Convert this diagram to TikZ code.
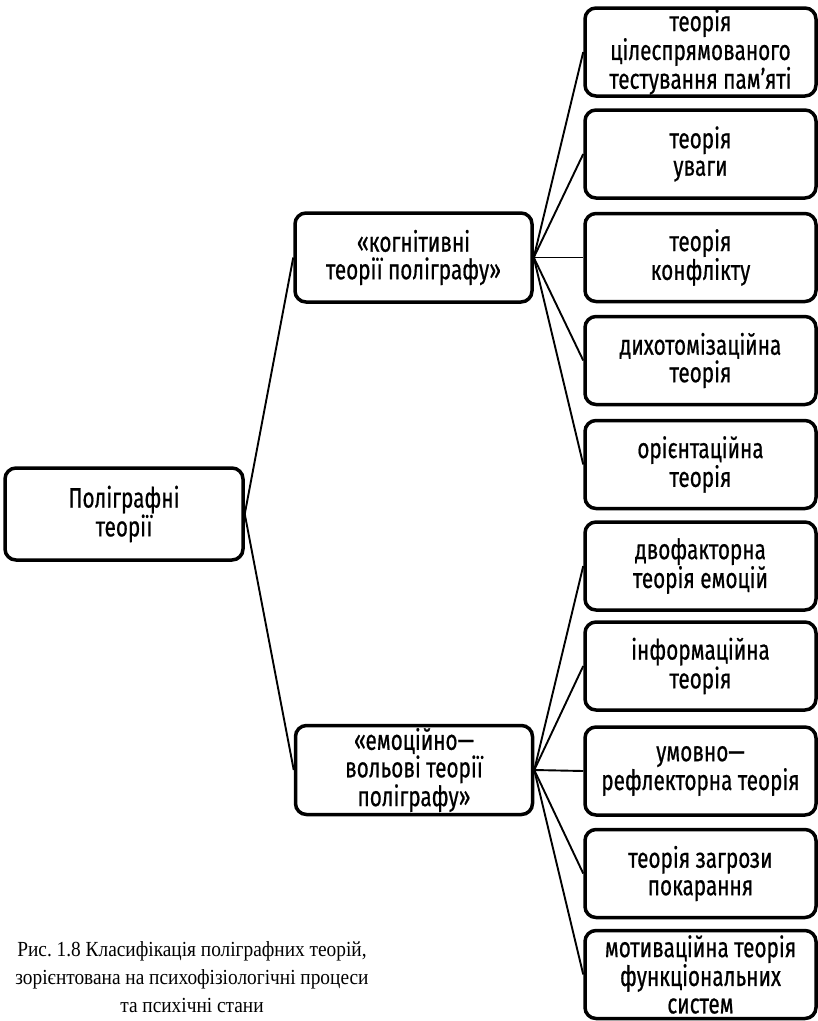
\documentclass[tikz,border=0pt]{standalone}
\usepackage{fontspec}
\setmainfont[FakeStretch=0.9]{Liberation Serif}
\newfontfamily\boxfont[FakeStretch=0.74,FakeBold=0.6]{Fira Sans}
\begin{document}
\begin{tikzpicture}[x=1pt,y=-1pt,
  tbox/.style={draw=black, line width=3.5pt, rounded corners=11pt, align=center,
    font=\boxfont\fontsize{28}{27.5}\selectfont, inner sep=0pt, fill=white,
    execute at begin node={\spaceskip=5.5pt\relax}},
  leaf/.style={tbox, minimum width=231pt, minimum height=88pt, text width=231pt},
  mid/.style={tbox, minimum width=237pt, minimum height=89pt, text width=230pt},
  conn/.style={draw=black, line width=1.9pt}]
\useasboundingbox (0,0) rectangle (818,1021);
\node[tbox, minimum width=238pt, minimum height=92pt, text width=230pt] (root) at (124,514) {Поліграфні\\теорії};
\node[mid] (cog) at (413.5,257.5) {«когнітивні\\теорії поліграфу»};
\node[mid] (emo) at (414,770) {«емоційно—\\вольові теорії\\поліграфу»};
\node[leaf] (r1) at (700.5,52) {теорія\\цілеспрямованого\\тестування пам’яті};
\node[leaf] (r2) at (700.5,154) {теорія\\уваги};
\node[leaf] (r3) at (700.5,257.5) {теорія\\конфлікту};
\node[leaf] (r4) at (700.5,360.5) {дихотомізаційна\\теорія};
\node[leaf] (r5) at (700.5,464.5) {орієнтаційна\\теорія};
\node[leaf] (r6) at (700.5,566) {двофакторна\\теорія емоцій};
\node[leaf] (r7) at (700.5,666) {інформаційна\\теорія};
\node[leaf] (r8) at (700.5,771) {умовно—\\рефлекторна теорія};
\node[leaf] (r9) at (700.5,873.5) {теорія загрози\\покарання};
\node[leaf] (r10) at (700.5,974.5) {мотиваційна теорія\\функціональних\\систем};
\draw[conn] (root.east) -- (cog.west);
\draw[conn] (root.east) -- (emo.west);
\foreach \i in {1,...,5} {\draw[conn] (cog.east) -- (r\i.west);}
\foreach \i in {6,...,10} {\draw[conn] (emo.east) -- (r\i.west);}
\node[font=\fontsize{21.5}{28}\selectfont\frenchspacing, align=center, anchor=base, inner sep=0pt] (cap) at (192,1012)
  {Рис. 1.8 Класифікація поліграфних теорій,\\зорієнтована на психофізіологічні процеси\\та психічні стани};
\end{tikzpicture}
\end{document}
